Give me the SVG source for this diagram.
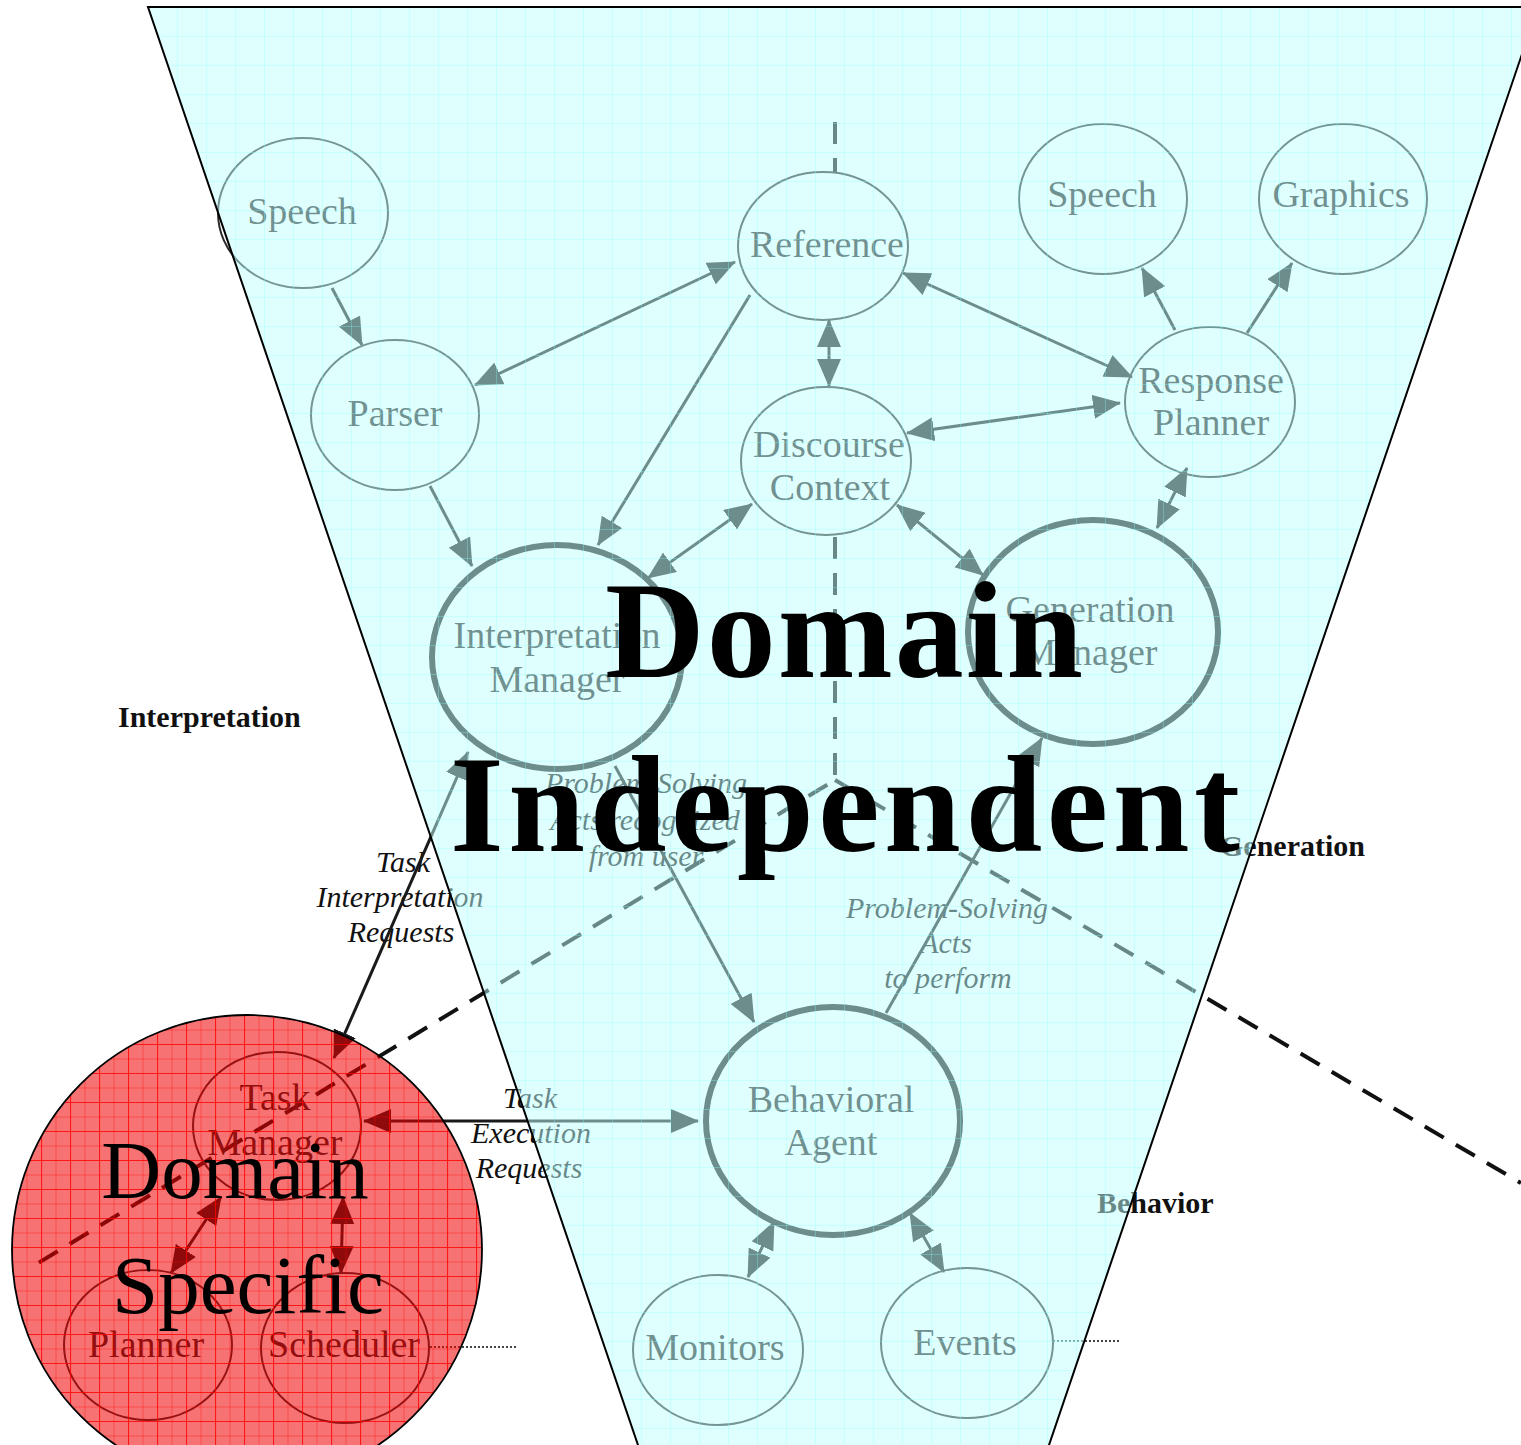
<svg xmlns="http://www.w3.org/2000/svg" width="1521" height="1445" viewBox="0 0 1521 1445">
<style>
.nd{fill:none;stroke:#2a2a2a;stroke-width:2}
.nk{fill:none;stroke:#1a1a1a;stroke-width:6}
.lb{font-family:"Liberation Serif",serif;font-size:38px;fill:#222;text-anchor:middle}
.it{font-family:"Liberation Serif",serif;font-style:italic;font-size:30px;fill:#111;text-anchor:middle}
.sec{font-family:"Liberation Serif",serif;font-weight:bold;font-size:30px;fill:#111}
.cn{stroke:#1a1a1a;stroke-width:3;fill:none}
.ds{stroke:#111;stroke-width:4;fill:none;stroke-dasharray:22 14}
.dt{stroke:#444;stroke-width:2;stroke-dasharray:2 2}
.big{font-family:"Liberation Serif",serif;font-weight:bold;font-size:138px;fill:#000;text-anchor:middle}
.red{font-family:"Liberation Serif",serif;font-size:83px;fill:#000;text-anchor:middle}
</style>
<defs>
<marker id="ah" markerUnits="userSpaceOnUse" markerWidth="28" markerHeight="24" viewBox="0 0 28 24" refX="27" refY="12" orient="auto-start-reverse">
<path d="M0,0 L28,12 L0,24 z" fill="#1a1a1a"/>
</marker>
<pattern id="cgrid" patternUnits="userSpaceOnUse" x="148" y="7" width="29" height="29">
<path d="M0.5,0 V29 M0,0.5 H29" stroke="#90ffff" stroke-width="1" opacity="0.3" fill="none"/>
</pattern>
<pattern id="rgrid" patternUnits="userSpaceOnUse" x="12" y="1015" width="29" height="29">
<path d="M15,0 V29 M0,15 H29" stroke="#ff0000" stroke-width="1" opacity="0.35" fill="none"/>
<path d="M0.5,0 V29 M0,0.5 H29" stroke="#ff0000" stroke-width="1.2" opacity="0.8" fill="none"/>
</pattern>
</defs>
<rect width="1521" height="1445" fill="#fff"/>

<g id="labels">
<text class="sec" x="118" y="727">Interpretation</text>
<text class="sec" x="1220" y="856">Generation</text>
<text class="sec" x="1097" y="1213">Behavior</text>
<text class="it" x="646" y="793">Problem-Solving</text>
<text class="it" x="645" y="830">Acts recognized</text>
<text class="it" x="646" y="866">from user</text>
<text class="it" x="947" y="918">Problem-Solving</text>
<text class="it" x="946" y="953">Acts</text>
<text class="it" x="948" y="988">to perform</text>
<text class="it" x="403" y="872">Task</text>
<text class="it" x="400" y="907">Interpretation</text>
<text class="it" x="401" y="942">Requests</text>
<text class="it" x="530" y="1108">Task</text>
<text class="it" x="531" y="1143">Execution</text>
<text class="it" x="529" y="1178">Requests</text>
</g>

<g id="connectors">
<path class="ds" d="M835,122 V172 M835,537 V780 L30,1268 M835,780 L1521,1183"/>
<line class="dt" x1="430" y1="1347" x2="518" y2="1347"/>
<line class="dt" x1="1053" y1="1341" x2="1119" y2="1341"/>
<line class="cn" x1="332" y1="288" x2="362" y2="345" marker-end="url(#ah)"/>
<line class="cn" x1="475" y1="385" x2="735" y2="262" marker-start="url(#ah)" marker-end="url(#ah)"/>
<line class="cn" x1="750" y1="295" x2="598" y2="545" marker-end="url(#ah)"/>
<line class="cn" x1="829" y1="320" x2="829" y2="386" marker-start="url(#ah)" marker-end="url(#ah)"/>
<line class="cn" x1="903" y1="273" x2="1132" y2="377" marker-start="url(#ah)" marker-end="url(#ah)"/>
<line class="cn" x1="907" y1="433" x2="1120" y2="403" marker-start="url(#ah)" marker-end="url(#ah)"/>
<line class="cn" x1="1175" y1="330" x2="1142" y2="268" marker-end="url(#ah)"/>
<line class="cn" x1="1247" y1="333" x2="1292" y2="263" marker-end="url(#ah)"/>
<line class="cn" x1="1187" y1="468" x2="1157" y2="528" marker-start="url(#ah)" marker-end="url(#ah)"/>
<line class="cn" x1="430" y1="486" x2="472" y2="566" marker-end="url(#ah)"/>
<line class="cn" x1="752" y1="504" x2="648" y2="578" marker-start="url(#ah)" marker-end="url(#ah)"/>
<line class="cn" x1="897" y1="505" x2="983" y2="575" marker-start="url(#ah)" marker-end="url(#ah)"/>
<line class="cn" x1="615" y1="766" x2="754" y2="1022" marker-end="url(#ah)"/>
<line class="cn" x1="886" y1="1013" x2="1042" y2="738" marker-end="url(#ah)"/>
<line class="cn" x1="468" y1="752" x2="334" y2="1058" marker-start="url(#ah)" marker-end="url(#ah)"/>
<line class="cn" x1="364" y1="1121" x2="698" y2="1121" marker-start="url(#ah)" marker-end="url(#ah)"/>
<line class="cn" x1="221" y1="1197" x2="171" y2="1273" marker-start="url(#ah)" marker-end="url(#ah)"/>
<line class="cn" x1="343" y1="1197" x2="341" y2="1273" marker-start="url(#ah)" marker-end="url(#ah)"/>
<line class="cn" x1="774" y1="1222" x2="748" y2="1277" marker-start="url(#ah)" marker-end="url(#ah)"/>
<line class="cn" x1="910" y1="1213" x2="944" y2="1272" marker-start="url(#ah)" marker-end="url(#ah)"/>
</g>

<g id="speech-in"><ellipse class="nd" cx="303" cy="213" rx="85" ry="75"/><text class="lb" x="302" y="224">Speech</text></g>
<g id="parser"><ellipse class="nd" cx="395" cy="415" rx="84" ry="75"/><text class="lb" x="395" y="426">Parser</text></g>
<g id="reference"><ellipse class="nd" cx="823" cy="246" rx="85" ry="74"/><text class="lb" x="827" y="257">Reference</text></g>
<g id="discourse"><ellipse class="nd" cx="826" cy="461" rx="85" ry="74"/><text class="lb" x="829" y="457">Discourse</text><text class="lb" x="830" y="500">Context</text></g>
<g id="speech-out"><ellipse class="nd" cx="1103" cy="199" rx="84" ry="75"/><text class="lb" x="1102" y="207">Speech</text></g>
<g id="graphics"><ellipse class="nd" cx="1343" cy="199" rx="84" ry="75"/><text class="lb" x="1341" y="207">Graphics</text></g>
<g id="response-planner"><ellipse class="nd" cx="1210" cy="402" rx="85" ry="75"/><text class="lb" x="1211" y="393">Response</text><text class="lb" x="1211" y="435">Planner</text></g>
<g id="interpretation-manager"><ellipse class="nk" cx="557" cy="657" rx="125" ry="112"/><text class="lb" x="557" y="648">Interpretation</text><text class="lb" x="557" y="692">Manager</text></g>
<g id="generation-manager"><ellipse class="nk" cx="1093" cy="632" rx="125" ry="112"/><text class="lb" x="1090" y="622">Generation</text><text class="lb" x="1090" y="665">Manager</text></g>
<g id="behavioral-agent"><ellipse class="nk" cx="833" cy="1121" rx="127" ry="114"/><text class="lb" x="831" y="1112">Behavioral</text><text class="lb" x="831" y="1155">Agent</text></g>
<g id="monitors"><ellipse class="nd" cx="718" cy="1350" rx="85" ry="75"/><text class="lb" x="715" y="1360">Monitors</text></g>
<g id="events"><ellipse class="nd" cx="967" cy="1343" rx="86" ry="75"/><text class="lb" x="965" y="1355">Events</text></g>
<g id="task-manager"><ellipse class="nd" cx="277" cy="1126" rx="84" ry="74"/><text class="lb" x="275" y="1110">Task</text><text class="lb" x="275" y="1155">Manager</text></g>
<g id="planner"><ellipse class="nd" cx="148" cy="1345" rx="84" ry="75"/><text class="lb" x="146" y="1357">Planner</text></g>
<g id="scheduler"><ellipse class="nd" cx="345" cy="1348" rx="84" ry="75"/><text class="lb" x="344" y="1357">Scheduler</text></g>

<g id="domain-independent">
<polygon points="148,7 1538,7 1048,1448 639,1448" fill="#c0ffff" fill-opacity="0.5"/>
<polygon points="148,7 1538,7 1048,1448 639,1448" fill="url(#cgrid)" stroke="#000" stroke-width="2"/>
<text class="big" x="844" y="677" textLength="478">Domain</text>
<text class="big" x="845" y="851" textLength="790">Independent</text>
</g>

<g id="domain-specific">
<circle cx="247" cy="1250" r="235" fill="#f00000" fill-opacity="0.55"/>
<circle cx="247" cy="1250" r="235" fill="url(#rgrid)" stroke="#000" stroke-width="1.8"/>
<text class="red" x="235" y="1198">Domain</text>
<text class="red" x="248" y="1313">Specific</text>
</g>
</svg>
